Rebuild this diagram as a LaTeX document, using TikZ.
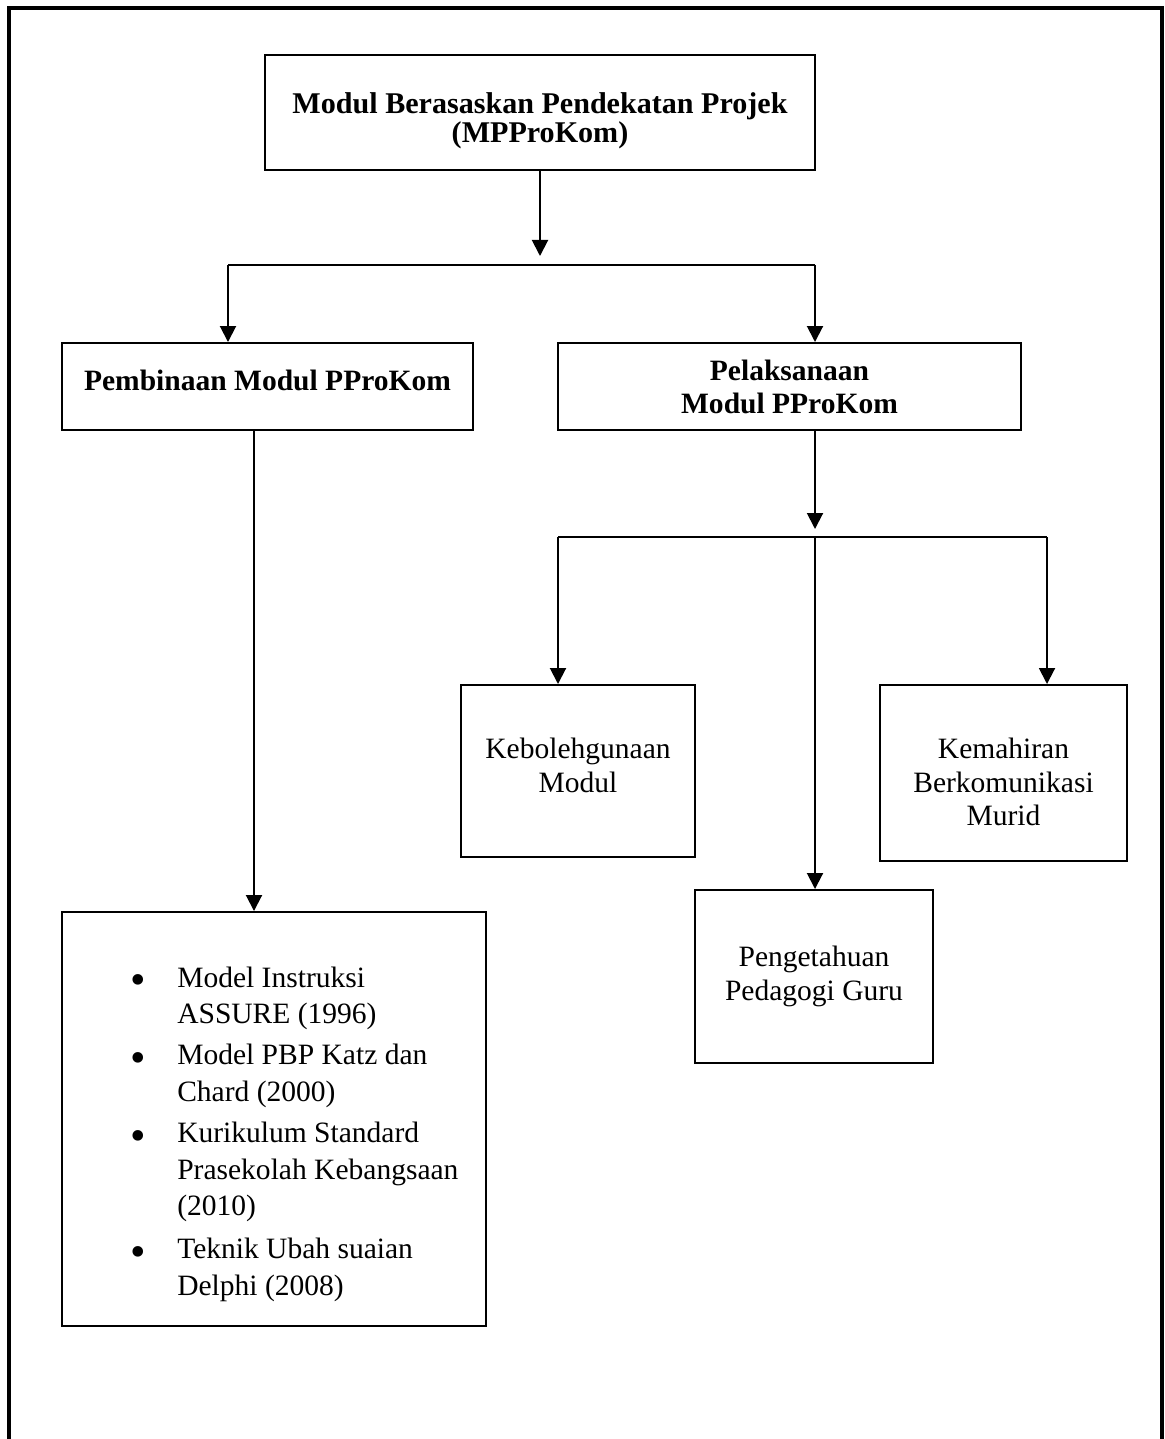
\documentclass[tikz,border=0pt]{standalone}
\usepackage{fontspec}
\setmainfont{Liberation Serif}
\usetikzlibrary{arrows.meta}

\tikzset{
	kotak/.style={draw, line width=1.4pt, align=center, inner sep=0pt},
	tebal/.style={font=\fontsize{21}{24}\selectfont\bfseries},
	panah/.style={-{Triangle[length=0.4cm,width=0.4cm]}, line width=1.4pt},
	garis/.style={line width=1.4pt},
}
\newcommand{\butir}{\makebox[1.175cm][l]{\raisebox{-0.27em}{\scalebox{1.5}{\textbullet}}}}

\begin{document}
\begin{tikzpicture}[font=\fontsize{21}{24}\selectfont]
		\useasboundingbox (0,0) rectangle (29.1,-35.975);
		% bingkai luar
		\draw[line width=2.3pt] (0.225,-35.975) -- (0.225,-0.2) -- (29.05,-0.2) -- (29.05,-35.975);

		% kotak
		\node[kotak, minimum width=13.75cm, minimum height=2.875cm, text height=1.6375cm,
			font=\fontsize{21.4}{20.6}\selectfont\bfseries] (modul) at (13.5,-2.8125)
			{Modul Berasaskan Pendekatan Projek\\(MPProKom)};
		\node[kotak, tebal, minimum width=10.275cm, minimum height=2.175cm, text depth=0.3cm]
			(pembinaan) at (6.6875,-9.6625) {Pembinaan Modul PProKom};
		\node[kotak, minimum width=11.575cm, minimum height=2.175cm,
			font=\fontsize{21}{23.4}\selectfont\bfseries]
			(pelaksanaan) at (19.7375,-9.6625) {Pelaksanaan\\Modul PProKom};
		\node[kotak, minimum width=5.85cm, minimum height=4.3cm, text depth=0.27cm]
			(kebolehgunaan) at (14.45,-19.275) {Kebolehgunaan\\Modul};
		\node[kotak, minimum width=6.175cm, minimum height=4.4cm, text height=2.65cm]
			(kemahiran) at (25.0875,-19.325) {Kemahiran\\Berkomunikasi\\Murid};
		\node[kotak, minimum width=5.95cm, minimum height=4.325cm]
			(pengetahuan) at (20.35,-24.4125) {Pengetahuan\\Pedagogi Guru};
		\node[kotak, minimum width=10.6cm, minimum height=10.35cm] (teori) at (6.85,-27.975) {};
		\node[anchor=base west, inner sep=0pt] (senarai) at (3.25,-24.675)
			{\fontsize{21}{26.2}\selectfont
			\begin{tabular}[t]{@{}l@{}l@{}}
				\butir & Model Instruksi\\
				& ASSURE (1996)\\[2.8pt]
				\butir & Model PBP Katz dan\\
				& Chard (2000)\\[2.8pt]
				\butir & Kurikulum Standard\\
				& Prasekolah Kebangsaan\\
				& (2010)\\[4pt]
				\butir & Teknik Ubah suaian\\
				& Delphi (2008)
			\end{tabular}};

		% cabang pertama
		\coordinate (kiri1) at (5.7,-6.625);
		\coordinate (kanan1) at (20.375,-6.625);
		\draw[garis] (kiri1) -- (kanan1);
		\draw[panah, shorten >=0.225cm] (modul.south) -- (modul.south |- kiri1);
		\draw[panah] (kiri1) -- (kiri1 |- pembinaan.north);
		\draw[panah] (kanan1) -- (kanan1 |- pelaksanaan.north);

		% cabang kedua
		\coordinate (kiri2) at (13.95,-13.425);
		\coordinate (kanan2) at (26.175,-13.425);
		\draw[garis] (kiri2) -- (kanan2);
		\draw[panah, shorten >=0.2cm] (kanan1 |- pelaksanaan.south) -- (kanan1 |- kiri2);
		\draw[panah] (kiri2) -- (kiri2 |- kebolehgunaan.north);
		\draw[panah] (kanan1 |- kiri2) -- (kanan1 |- pengetahuan.north);
		\draw[panah] (kanan2) -- (kanan2 |- kemahiran.north);

		% ke kotak teori
		\coordinate (jalur) at (6.35,0);
		\draw[panah] (jalur |- pembinaan.south) -- (jalur |- teori.north);
	\end{tikzpicture}
\end{document}
